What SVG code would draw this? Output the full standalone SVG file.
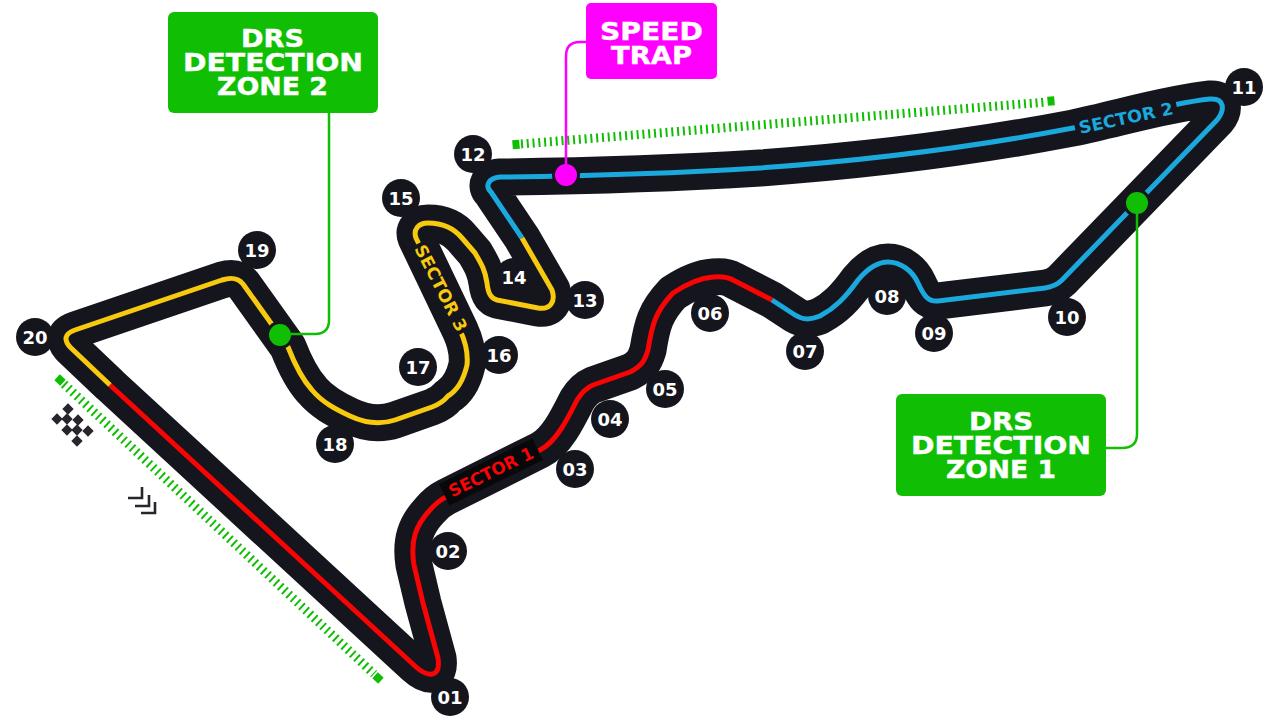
<svg xmlns="http://www.w3.org/2000/svg" width="1280" height="720" viewBox="0 0 1280 720">
<style>
.trk{fill:none;stroke:#15151e;stroke-width:37;stroke-linejoin:round;stroke-linecap:round}
.sec{fill:none;stroke-width:5;stroke-linejoin:round}
.r{stroke:#f80404}.b{stroke:#1ba8dc}.y{stroke:#f7c90f}
.turn circle{fill:#15151e}
.n{font:700 18px "DejaVu Sans",Arial,sans-serif;fill:#fff;text-anchor:middle}
.box{fill:#10bf04}
.bt{font:700 25px "DejaVu Sans",Arial,sans-serif;fill:#fff;stroke:#fff;stroke-width:.4}
.st{font:700 17px "DejaVu Sans",Arial,sans-serif}
.link{fill:none;stroke-width:2.5}
.dots{fill:none;stroke:#10bf04;stroke-width:9;stroke-dasharray:2 3.8}
.end{fill:#10bf04}
</style>
<defs>
<path id="chev" d="M0,0H14V-11" fill="none" stroke="#26262c" stroke-width="2.6"/>
<rect id="sq" x="-4" y="-4" width="8" height="8" transform="rotate(45)" fill="#26262c"/>
</defs>
<g id="drs-markers">
<line class="dots" x1="64" y1="384" x2="374" y2="674"/>
<rect class="end" x="-4" y="-4" width="8" height="8" transform="translate(60,380) rotate(43)"/>
<rect class="end" x="-4" y="-4" width="8" height="8" transform="translate(378,678) rotate(43)"/>
<line class="dots" x1="521" y1="144" x2="1047" y2="102"/>
<rect class="end" x="-3.500" y="-4.500" width="7" height="9" transform="translate(516,144.500) rotate(-5)"/>
<rect class="end" x="-3.500" y="-4.500" width="7" height="9" transform="translate(1051,101) rotate(-5)"/>
</g>
<g id="track">
<path class="trk" d="M110,385L415,666C428,678 441,678 438,658L423,603L414,565C410,540 416,525 430,510C436,503 440,500 446,497L540,450C556,442 567,420 577,400C582,392 586,388 593,385L630,372C642,366 645,360 648,350C652,325 655,312 673,293C685,285 700,278 713,277C722,276 728,277 733,280L772,300L795,315C803,320 810,320 820,316C835,308 845,298 858,280C868,268 878,262 888,262C900,262 912,270 918,283C924,296 928,302 938,301L1045,288C1052,287 1057,285 1062,280L1217,120C1225,110 1225,98 1210,99C1170,103 1120,118 1073,128C1000,142 900,158 760,168C680,173 590,176 500,177C488,178 485,186 491,192L522,238L552,290C556,302 550,310 538,308L497,300C490,298 488,292 487,283C485,270 482,265 475,253L462,238C452,226 440,223 428,223C418,223 413,230 416,238L460,330C467,345 468,355 467,365C464,378 458,390 448,396C444,401 440,404 432,407L395,420C380,425 365,423 350,416C335,409 322,402 312,390C303,380 295,365 288,347L243,284C238,278 232,277 222,280L75,330C64,334 64,340 70,347Z"/>
</g>
<g id="sectors">
<path class="sec r" d="M110,385L415,666C428,678 441,678 438,658L423,603L414,565C410,540 416,525 430,510C436,503 440,500 446,497L540,450C556,442 567,420 577,400C582,392 586,388 593,385L630,372C642,366 645,360 648,350C652,325 655,312 673,293C685,285 700,278 713,277C722,276 728,277 733,280L772,300"/>
<path class="sec b" d="M772,300L795,315C803,320 810,320 820,316C835,308 845,298 858,280C868,268 878,262 888,262C900,262 912,270 918,283C924,296 928,302 938,301L1045,288C1052,287 1057,285 1062,280L1217,120C1225,110 1225,98 1210,99C1170,103 1120,118 1073,128C1000,142 900,158 760,168C680,173 590,176 500,177C488,178 485,186 491,192L522,238"/>
<path class="sec y" d="M522,238L552,290C556,302 550,310 538,308L497,300C490,298 488,292 487,283C485,270 482,265 475,253L462,238C452,226 440,223 428,223C418,223 413,230 416,238L460,330C467,345 468,355 467,365C464,378 458,390 448,396C444,401 440,404 432,407L395,420C380,425 365,423 350,416C335,409 322,402 312,390C303,380 295,365 288,347L243,284C238,278 232,277 222,280L75,330C64,334 64,340 70,347L110,385"/>
</g>
<g id="sector-1"><g transform="translate(491,472) rotate(-26)"><rect x="-52" y="-12" width="104" height="24" fill="#08080a"/><text class="st" y="6" text-anchor="middle" fill="#f80404" textLength="92" lengthAdjust="spacingAndGlyphs">SECTOR 1</text></g></g>
<g id="sector-2"><g transform="translate(1126,118) rotate(-12)"><rect x="-52" y="-10" width="104" height="20" fill="#15151e"/><text class="st" y="6" text-anchor="middle" fill="#1ba8dc" textLength="96" lengthAdjust="spacingAndGlyphs">SECTOR 2</text></g></g>
<g id="sector-3"><g transform="translate(441,288) rotate(63)"><rect x="-50" y="-10" width="100" height="20" fill="#15151e"/><text class="st" y="6" text-anchor="middle" fill="#f7c90f" textLength="95" lengthAdjust="spacingAndGlyphs">SECTOR 3</text></g></g>
<g id="turns" class="turn">
<g id="t01"><circle cx="450" cy="697" r="19"/><text class="n" x="450" y="703.500">01</text></g>
<g id="t02"><circle cx="448" cy="551" r="19"/><text class="n" x="448" y="557.500">02</text></g>
<g id="t03"><circle cx="575" cy="469" r="19"/><text class="n" x="575" y="475.500">03</text></g>
<g id="t04"><circle cx="610" cy="419" r="19"/><text class="n" x="610" y="425.500">04</text></g>
<g id="t05"><circle cx="665" cy="389" r="19"/><text class="n" x="665" y="395.500">05</text></g>
<g id="t06"><circle cx="710" cy="313" r="19"/><text class="n" x="710" y="319.500">06</text></g>
<g id="t07"><circle cx="805" cy="351" r="19"/><text class="n" x="805" y="357.500">07</text></g>
<g id="t08"><circle cx="887" cy="296" r="19"/><text class="n" x="887" y="302.500">08</text></g>
<g id="t09"><circle cx="934" cy="333" r="19"/><text class="n" x="934" y="339.500">09</text></g>
<g id="t10"><circle cx="1067" cy="317" r="19"/><text class="n" x="1067" y="323.500">10</text></g>
<g id="t11"><circle cx="1244" cy="87" r="19"/><text class="n" x="1244" y="93.500">11</text></g>
<g id="t12"><circle cx="473" cy="154" r="19"/><text class="n" x="473" y="160.500">12</text></g>
<g id="t13"><circle cx="585" cy="300" r="19"/><text class="n" x="585" y="306.500">13</text></g>
<g id="t14"><circle cx="514" cy="277" r="19"/><text class="n" x="514" y="283.500">14</text></g>
<g id="t15"><circle cx="401" cy="198" r="19"/><text class="n" x="401" y="204.500">15</text></g>
<g id="t16"><circle cx="499" cy="355" r="19"/><text class="n" x="499" y="361.500">16</text></g>
<g id="t17"><circle cx="418" cy="367" r="19"/><text class="n" x="418" y="373.500">17</text></g>
<g id="t18"><circle cx="335" cy="444" r="19"/><text class="n" x="335" y="450.500">18</text></g>
<g id="t19"><circle cx="257" cy="250" r="19"/><text class="n" x="257" y="256.500">19</text></g>
<g id="t20"><circle cx="35" cy="337" r="19"/><text class="n" x="35" y="343.500">20</text></g>
</g>
<g id="connectors">
<circle cx="280" cy="335" r="14" fill="#15151e"/>
<circle cx="1137" cy="203" r="14" fill="#15151e"/>
<circle cx="566" cy="175" r="14" fill="#15151e"/>
<path class="link" stroke="#10bf04" d="M329,113V320Q329,334 315,334H280"/>
<path class="link" stroke="#10bf04" d="M1137,203V434Q1137,448 1122,448H1106"/>
<path class="link" stroke="#ff00ff" d="M586,42H580Q566,42 566,56V175"/>
<circle cx="280" cy="335" r="11" fill="#10bf04"/>
<circle cx="1137" cy="203" r="11" fill="#10bf04"/>
<circle cx="566" cy="175" r="11" fill="#ff00ff"/>
</g>
<g id="drs-zone-2"><rect class="box" x="168" y="12" width="210" height="101" rx="6"/>
<text class="bt" x="241" y="47" textLength="63" lengthAdjust="spacingAndGlyphs">DRS</text>
<text class="bt" x="183" y="71" textLength="180" lengthAdjust="spacingAndGlyphs">DETECTION</text>
<text class="bt" x="217" y="95" textLength="111" lengthAdjust="spacingAndGlyphs">ZONE 2</text></g>
<g id="drs-zone-1"><rect class="box" x="896" y="394" width="210" height="102" rx="6"/>
<text class="bt" x="969" y="430" textLength="64" lengthAdjust="spacingAndGlyphs">DRS</text>
<text class="bt" x="911" y="454" textLength="180" lengthAdjust="spacingAndGlyphs">DETECTION</text>
<text class="bt" x="946" y="478" textLength="110" lengthAdjust="spacingAndGlyphs">ZONE 1</text></g>
<g id="speed-trap"><rect x="586" y="3" width="131" height="76" rx="5" fill="#ff00ff"/>
<text class="bt" x="600" y="40" textLength="103" lengthAdjust="spacingAndGlyphs">SPEED</text>
<text class="bt" x="611" y="64" textLength="81" lengthAdjust="spacingAndGlyphs">TRAP</text></g>
<g id="start-flag">
<use href="#sq" x="68" y="409"/><use href="#sq" x="57" y="419"/><use href="#sq" x="67" y="419"/><use href="#sq" x="78" y="420"/><use href="#sq" x="67" y="430"/><use href="#sq" x="77" y="430"/><use href="#sq" x="88" y="431"/><use href="#sq" x="77" y="441"/>
</g>
<g id="direction"><use href="#chev" x="128" y="498"/><use href="#chev" x="135" y="506"/><use href="#chev" x="141" y="513"/></g>
</svg>
